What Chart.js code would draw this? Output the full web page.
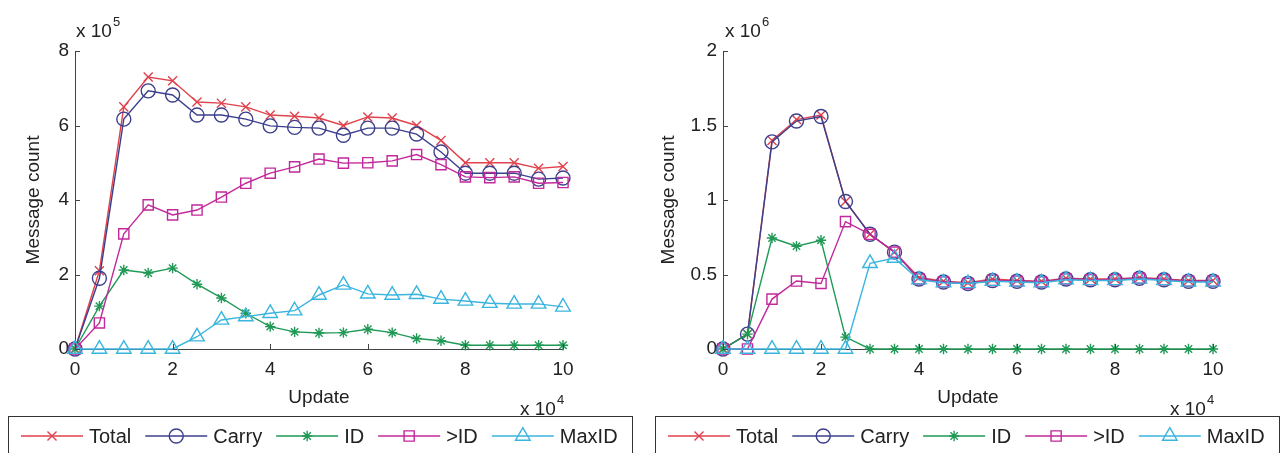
<!DOCTYPE html>
<html><head><meta charset="utf-8">
<script src="https://cdn.jsdelivr.net/npm/chart.js@4.4.1/dist/chart.umd.min.js"></script>
<style>
html,body{margin:0;padding:0;background:#fff;}
#wrap{position:relative;width:1281px;height:453px;overflow:hidden;background:#fff;}
canvas{position:absolute;top:0;}
</style></head><body>
<div id="wrap">
<canvas id="left" width="640" height="453" style="left:0"></canvas>
<canvas id="right" width="641" height="453" style="left:640px"></canvas>
</div>
<script>
// x axis: Update (x 10^4)
const updates = [0,0.5,1,1.5,2,2.5,3,3.5,4,4.5,5,5.5,6,6.5,7,7.5,8,8.5,9,9.5,10];
const seriesNames = ['Total','Carry','ID','>ID','MaxID'];
const xTicksLabel = ['0','2','4','6','8','10'];
const leftYTicks = ['0','2','4','6','8'];
const rightYTicks = ['0','0.5','1','1.5','2'];

// Left panel, values in units of 10^5
const leftTotal = [0,2.1,6.5,7.3,7.2,6.63,6.6,6.5,6.28,6.25,6.2,6.0,6.23,6.2,6.0,5.6,5.0,5.0,5.0,4.85,4.9];
const leftCarry = [0,1.9,6.17,6.93,6.82,6.28,6.28,6.17,5.99,5.95,5.93,5.74,5.93,5.93,5.77,5.29,4.72,4.72,4.72,4.56,4.59];
const leftID    = [0,1.15,2.12,2.04,2.17,1.74,1.37,0.96,0.6,0.46,0.43,0.44,0.53,0.44,0.28,0.22,0.1,0.1,0.1,0.1,0.1];
const leftGtID  = [0,0.7,3.09,3.87,3.6,3.73,4.08,4.45,4.72,4.89,5.1,4.99,5.0,5.05,5.22,4.95,4.62,4.6,4.62,4.45,4.47];
const leftMaxID = [0,0,0,0,0,0.33,0.78,0.87,0.96,1.03,1.45,1.72,1.48,1.45,1.47,1.34,1.29,1.23,1.21,1.21,1.13];

// Right panel, values in units of 10^6
const rightTotal = [0,0.1,1.40,1.54,1.57,0.99,0.77,0.65,0.48,0.455,0.445,0.47,0.46,0.455,0.475,0.47,0.47,0.48,0.47,0.46,0.46];
const rightCarry = [0,0.1,1.39,1.53,1.56,0.99,0.77,0.65,0.47,0.45,0.44,0.46,0.455,0.45,0.47,0.465,0.465,0.475,0.465,0.455,0.455];
const rightID    = [0,0.1,0.745,0.69,0.73,0.08,0,0,0,0,0,0,0,0,0,0,0,0,0,0,0];
const rightGtID  = [0,0,0.335,0.456,0.44,0.855,0.77,0.65,0.47,0.45,0.44,0.46,0.455,0.45,0.47,0.465,0.465,0.475,0.465,0.455,0.455];
const rightMaxID = [0,0,0,0,0,0,0.575,0.61,0.465,0.445,0.44,0.455,0.45,0.445,0.465,0.46,0.46,0.47,0.46,0.45,0.45];

const seriesStyle = [
  {color:'#e0424d', point:'crossRot', r:6.4},
  {color:'#3c3f8c', point:'circle', r:7},
  {color:'#1f9955', point:'star', r:5.2},
  {color:'#c2299a', point:'rect', r:7.2},
  {color:'#3ab5de', point:'triangle', r:8.4}
];

const FONT = '"Liberation Sans", Arial, Helvetica, sans-serif';
const TXT = '#222';
const AXIS = '#444';

function drawMarker(ctx, style, x, y) {
  ctx.save();
  ctx.strokeStyle = style.color;
  ctx.fillStyle = 'rgba(0,0,0,0)';
  ctx.lineWidth = 1.4;
  Chart.helpers.drawPoint(ctx, {pointStyle: style.point, radius: style.r, rotation: 0, borderWidth: 1.4}, x, y);
  ctx.restore();
}

const decor = {
  id: 'decor',
  afterDraw(chart, args, opts) {
    const ctx = chart.ctx;
    const xs = chart.scales.x, ys = chart.scales.y;
    const ca = chart.chartArea;
    ctx.save();
    // inward tick marks
    ctx.strokeStyle = AXIS; ctx.lineWidth = 1;
    xs.ticks.forEach(t => {
      const px = Math.round(xs.getPixelForValue(t.value)) + 0.5;
      ctx.beginPath(); ctx.moveTo(px, ca.bottom); ctx.lineTo(px, ca.bottom - 5); ctx.stroke();
    });
    ys.ticks.forEach(t => {
      const py = Math.round(ys.getPixelForValue(t.value)) + 0.5;
      ctx.beginPath(); ctx.moveTo(ca.left, py); ctx.lineTo(ca.left + 5, py); ctx.stroke();
    });
    ctx.textBaseline = 'alphabetic'; ctx.textAlign = 'left';
    function expo(x, y, base, exp) {
      ctx.fillStyle = TXT;
      ctx.font = '19px ' + FONT;
      ctx.fillText(base, x, y);
      const w = ctx.measureText(base).width;
      ctx.font = '13px ' + FONT;
      ctx.fillText(exp, x + w + 1, y - 11);
    }
    expo(ca.left + opts.yExpDx, 37, 'x 10', opts.yExp);
    // legend box
    const bx = opts.legendX, by = 416, bw = 624;
    ctx.fillStyle = '#fff';
    ctx.fillRect(bx, by, bw, 60);
    ctx.strokeStyle = '#333'; ctx.lineWidth = 1;
    ctx.strokeRect(bx + 0.5, by + 0.5, bw, 60);
    // x exponent overlaps the legend box top, as in the reference
    expo(ca.right - 43, 415, 'x 10', '4');
    let x = bx + 13;
    const cy = 436;
    seriesNames.forEach((name, i) => {
      const st = seriesStyle[i];
      ctx.strokeStyle = st.color; ctx.lineWidth = 1.4;
      ctx.beginPath(); ctx.moveTo(x, cy); ctx.lineTo(x + 62, cy); ctx.stroke();
      drawMarker(ctx, st, x + 31, cy);
      ctx.fillStyle = TXT;
      ctx.font = '20px ' + FONT;
      ctx.textBaseline = 'middle';
      ctx.fillText(name, x + 68, cy + 1);
      x += 68 + ctx.measureText(name).width + 14;
    });
    ctx.restore();
  }
};

function makeChart(id, values, cfg) {
  const datasets = values.map((vals, i) => {
    const st = seriesStyle[i];
    return {
      label: seriesNames[i],
      data: updates.map((u, j) => ({x: u, y: vals[j]})),
      borderColor: st.color,
      backgroundColor: 'rgba(0,0,0,0)',
      borderWidth: 1.4,
      pointStyle: st.point,
      pointRadius: st.r,
      pointHoverRadius: st.r,
      pointBorderWidth: 1.4,
      pointBorderColor: st.color,
      pointBackgroundColor: 'rgba(0,0,0,0)',
      tension: 0,
      fill: false,
      clip: false,
      order: 5 - i
    };
  });
  const tickFont = {family: FONT, size: 19};
  return new Chart(document.getElementById(id), {
    type: 'line',
    data: {datasets},
    options: {
      responsive: false,
      animation: false,
      events: [],
      layout: {padding: {left: 0, right: cfg.padRight, top: 51, bottom: 0}},
      plugins: {legend: {display: false}, tooltip: {enabled: false}, decor: cfg.decor},
      scales: {
        x: {
          type: 'linear', min: 0, max: 10,
          ticks: {stepSize: 2, padding: 9, font: tickFont, color: TXT, maxRotation: 0,
                  callback: (v) => xTicksLabel[Math.round(v / 2)] ?? ''},
          grid: {display: false, drawTicks: false},
          border: {display: true, color: AXIS, width: 1},
          title: {display: true, text: 'Update', font: tickFont, color: TXT, padding: {top: 0, bottom: 43.6}},
          afterFit(s) { s.height = 104; }
        },
        y: {
          type: 'linear', min: 0, max: cfg.ymax,
          ticks: {stepSize: cfg.ystep, padding: 6, font: tickFont, color: TXT,
                  callback: (v) => cfg.yLabels[Math.round(v / cfg.ystep)] ?? ''},
          grid: {display: false, drawTicks: false},
          border: {display: true, color: AXIS, width: 1},
          title: {display: true, text: 'Message count', font: tickFont, color: TXT, padding: {top: cfg.titlePad, bottom: 0}},
          afterFit(s) { s.width = cfg.axisW; }
        }
      }
    },
    plugins: [decor]
  });
}

makeChart('left', [leftTotal, leftCarry, leftID, leftGtID, leftMaxID], {
  padRight: 77, ymax: 8, ystep: 2, axisW: 75, titlePad: 22.6, yLabels: leftYTicks,
  decor: {yExp: '5', yExpDx: 1, legendX: 8}
});
makeChart('right', [rightTotal, rightCarry, rightID, rightGtID, rightMaxID], {
  padRight: 68, ymax: 2, ystep: 0.5, axisW: 83, titlePad: 17.6, yLabels: rightYTicks,
  decor: {yExp: '6', yExpDx: 2, legendX: 15}
});
</script>
</body></html>
